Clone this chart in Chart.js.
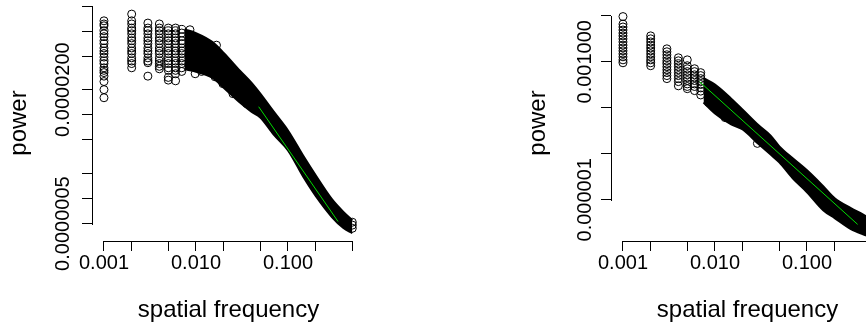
<!DOCTYPE html>
<html>
<head>
<meta charset="utf-8">
<script src="https://cdn.jsdelivr.net/npm/chart.js@4.4.0/dist/chart.umd.min.js"></script>
<style>
  html, body { margin: 0; padding: 0; background: #fff; overflow: hidden; }
  .panel { position: absolute; top: 0; width: 519px; height: 330px; }
</style>
</head>
<body>
<div class="panel" style="left:0"><canvas id="left" width="519" height="330"></canvas></div>
<div class="panel" style="left:519px"><canvas id="right" width="519" height="330"></canvas></div>
<script>
// shared x axis
const xTicks = [0.001, 0.002, 0.005, 0.01, 0.02, 0.05, 0.1, 0.2, 0.5];
const xTickLabels = ["0.001", "", "", "0.010", "", "", "0.100", "", ""];

// left panel
const leftYTicks = [5e-7, 1e-6, 2e-6, 5e-6, 1e-5, 2e-5, 5e-5, 1e-4, 2e-4];
const leftYTickLabels = ["0.0000005", "", "", "", "", "0.0000200", "", "", ""];
const leftColFreq = [0.001, 0.002, 0.003, 0.004, 0.005, 0.006, 0.007];
const leftColPower = [
  [1.33e-4, 1.22e-4, 1.16e-4, 1.01e-4, 9.3e-5, 8.6e-5, 7.7e-5, 7.1e-5, 6.3e-5, 5.8e-5, 5.4e-5, 4.9e-5, 4.4e-5, 4.1e-5, 3.65e-5, 3.4e-5, 3.2e-5, 2.9e-5, 2.5e-5, 2.0e-5, 1.6e-5],
  [1.6e-4, 1.33e-4, 1.22e-4, 1.09e-4, 1.01e-4, 9.3e-5, 8.3e-5, 7.7e-5, 7.1e-5, 6.3e-5, 5.8e-5, 5.4e-5, 4.8e-5, 4.4e-5, 4.1e-5, 3.65e-5],
  [1.25e-4, 1.09e-4, 1.01e-4, 9.3e-5, 8.3e-5, 7.7e-5, 7.1e-5, 6.3e-5, 5.8e-5, 5.4e-5, 4.8e-5, 4.4e-5, 4.2e-5, 2.9e-5],
  [1.22e-4, 1.09e-4, 1.01e-4, 9.3e-5, 8.3e-5, 7.7e-5, 7.1e-5, 6.3e-5, 5.8e-5, 5.4e-5, 4.8e-5, 4.4e-5, 4.1e-5, 3.8e-5, 3.55e-5],
  [1.09e-4, 1.01e-4, 9.3e-5, 8.3e-5, 7.7e-5, 7.1e-5, 6.3e-5, 5.8e-5, 5.4e-5, 4.8e-5, 4.4e-5, 4.1e-5, 3.65e-5, 3.4e-5, 2.8e-5, 2.6e-5],
  [1.09e-4, 1.01e-4, 9.3e-5, 8.3e-5, 7.7e-5, 7.1e-5, 6.3e-5, 5.8e-5, 5.4e-5, 4.8e-5, 4.4e-5, 4.1e-5, 3.65e-5, 3.4e-5, 3.1e-5, 2.55e-5],
  [1.05e-4, 9.5e-5, 8.6e-5, 7.7e-5, 7.1e-5, 6.3e-5, 5.8e-5, 5.4e-5, 4.8e-5, 4.4e-5, 4.1e-5, 3.65e-5, 3.3e-5]
];
const leftBandFreq = [0.0075, 0.01, 0.015, 0.02, 0.03, 0.04, 0.05, 0.07, 0.1, 0.15, 0.2, 0.3, 0.4, 0.5];
const leftBandUpper = [1.05e-4, 9.5e-5, 7.45e-5, 5.5e-5, 3.37e-5, 2.42e-5, 1.79e-5, 1.09e-5, 6.5e-6, 3.1e-6, 1.89e-6, 9.8e-7, 6.9e-7, 5.5e-7];
const leftBandLower = [3.5e-5, 3.28e-5, 2.78e-5, 2.11e-5, 1.4e-5, 1.09e-5, 9.3e-6, 5.8e-6, 3.76e-6, 1.74e-6, 1.07e-6, 6.0e-7, 4.43e-7, 3.86e-7];
const leftExtraFreq = [0.0086, 0.0098, 0.0115, 0.0161, 0.0167, 0.0196, 0.0252, 0.0356, 0.5, 0.5, 0.5];
const leftExtraPower = [1.04e-4, 3.1e-5, 3.3e-5, 2.85e-5, 6.8e-5, 2.36e-5, 1.79e-5, 1.36e-5, 5.2e-7, 4.8e-7, 4.4e-7];
const leftFitFreq = [0.048, 0.35];
const leftFitPower = [1.25e-5, 5.3e-7];

// right panel
const rightYTicks = [1e-6, 1e-5, 1e-4, 1e-3, 1e-2];
const rightYTickLabels = ["0.000001", "", "", "0.001000", ""];
const rightColFreq = [0.001, 0.002, 0.003, 0.004, 0.005, 0.006, 0.007];
const rightColPower = [
  [9.6e-3, 6.6e-3, 5.7e-3, 4.9e-3, 4.2e-3, 3.65e-3, 3.15e-3, 2.7e-3, 2.3e-3, 2.0e-3, 1.73e-3, 1.49e-3, 1.28e-3, 1.1e-3, 9.5e-4],
  [3.65e-3, 3.15e-3, 2.7e-3, 2.3e-3, 2.0e-3, 1.73e-3, 1.49e-3, 1.28e-3, 1.1e-3, 9.5e-4, 8.2e-4],
  [1.91e-3, 1.65e-3, 1.42e-3, 1.22e-3, 1.05e-3, 9.05e-4, 7.8e-4, 6.7e-4, 5.8e-4, 5.0e-4, 4.3e-4],
  [1.22e-3, 1.05e-3, 9.05e-4, 7.8e-4, 6.7e-4, 5.8e-4, 5.0e-4, 4.3e-4, 3.7e-4, 3.0e-4],
  [1.1e-3, 8.2e-4, 7.05e-4, 6.1e-4, 5.2e-4, 4.5e-4, 3.9e-4, 3.3e-4, 2.9e-4, 2.6e-4],
  [7.05e-4, 6.1e-4, 5.2e-4, 4.5e-4, 3.9e-4, 3.3e-4, 2.9e-4, 2.36e-4],
  [5.8e-4, 5.0e-4, 4.3e-4, 3.7e-4, 3.2e-4, 2.7e-4, 2.3e-4, 1.9e-4]
];
const rightBandFreq = [0.0075, 0.01, 0.015, 0.02, 0.03, 0.04, 0.05, 0.07, 0.1, 0.15, 0.2, 0.3, 0.4, 0.5];
const rightBandUpper = [4.4e-4, 3.18e-4, 1.58e-4, 9.1e-5, 4.1e-5, 2.5e-5, 1.45e-5, 7.95e-6, 4.37e-6, 1.97e-6, 1.08e-6, 6.6e-7, 4.9e-7, 3.8e-7];
const rightBandLower = [1.3e-4, 7.5e-5, 4.33e-5, 3.37e-5, 1.6e-5, 9.7e-6, 6.5e-6, 2.93e-6, 1.46e-6, 5.95e-7, 4.0e-7, 2.31e-7, 1.8e-7, 1.55e-7];
const rightExtraFreq = [0.0085, 0.0129, 0.0289];
const rightExtraPower = [1.3e-4, 6.1e-5, 1.68e-5];
const rightFitFreq = [0.0068, 0.355];
const rightFitPower = [3.69e-4, 2.92e-7];

Chart.defaults.font.family = '"Liberation Sans", Arial, sans-serif';
Chart.defaults.color = "#000";

// R style axis line: only from first to last tick
const axisLines = {
  id: "axisLines",
  afterDraw(chart) {
    const { ctx, chartArea } = chart;
    const x = chart.scales.x;
    const y = chart.scales.y;
    const bx = Math.round(chartArea.left) + 0.5;
    const by = Math.round(chartArea.bottom) + 0.5;
    ctx.save();
    ctx.strokeStyle = "#000";
    ctx.lineWidth = 1;
    ctx.beginPath();
    ctx.moveTo(Math.round(x.getPixelForValue(x.ticks[0].value)), by);
    ctx.lineTo(Math.round(x.getPixelForValue(x.ticks[x.ticks.length - 1].value)) + 1, by);
    ctx.moveTo(bx, Math.round(y.getPixelForValue(y.ticks[0].value)) + 1);
    ctx.lineTo(bx, Math.round(y.getPixelForValue(y.ticks[y.ticks.length - 1].value)));
    ctx.stroke();
    ctx.restore();
  }
};

function pairs(fs, ps) {
  return fs.map((f, i) => ({ x: f, y: ps[i] }));
}

function makeChart(id, d) {
  const points = [];
  d.colFreq.forEach((f, i) => d.colPower[i].forEach(p => points.push({ x: f, y: p })));
  d.extraFreq.forEach((f, i) => points.push({ x: f, y: d.extraPower[i] }));

  const band = { showLine: true, borderColor: "#000", borderWidth: 2, pointRadius: 0, cubicInterpolationMode: "monotone" };

  new Chart(document.getElementById(id), {
    type: "scatter",
    data: {
      datasets: [
        { data: pairs(d.fitFreq, d.fitPower), showLine: true, borderColor: "#00dd00", borderWidth: 1, pointRadius: 0 },
        Object.assign({ data: pairs(d.bandFreq, d.bandUpper), fill: "+1", backgroundColor: "#000" }, band),
        Object.assign({ data: pairs(d.bandFreq, d.bandLower) }, band),
        { data: points, pointRadius: 4, borderColor: "#000", borderWidth: 1, backgroundColor: "rgba(0,0,0,0)" }
      ]
    },
    options: {
      responsive: false,
      animation: false,
      devicePixelRatio: 1,
      layout: { padding: { top: 4, right: 154, left: 0, bottom: 0 } },
      plugins: { legend: { display: false }, tooltip: { enabled: false } },
      scales: {
        x: {
          type: "logarithmic",
          min: 7.41e-4,
          max: 0.687,
          afterBuildTicks: s => { s.ticks = xTicks.map(v => ({ value: v })); },
          afterFit: s => { s.height = 89; },
          grid: { drawOnChartArea: false, tickLength: 10, color: "#000" },
          border: { display: false },
          ticks: { autoSkip: false, maxRotation: 0, padding: 0, font: { size: 20 }, callback: (v, i) => xTickLabels[i] },
          title: { display: true, text: "spatial frequency", font: { size: 24 }, padding: { top: 0, bottom: 5 } }
        },
        y: {
          type: "logarithmic",
          min: d.yMin,
          max: d.yMax,
          afterBuildTicks: s => { s.ticks = d.yTicks.map(v => ({ value: v })); },
          afterFit: s => { s.width = 92; },
          grid: { drawOnChartArea: false, tickLength: 10, color: "#000" },
          border: { display: false },
          ticks: { autoSkip: false, minRotation: 90, maxRotation: 90, crossAlign: "center", padding: d.yLabelPad, font: { size: 20 }, callback: (v, i) => d.yTickLabels[i] },
          title: { display: true, text: "power", font: { size: 24 }, padding: { top: 5, bottom: 0 } }
        }
      }
    },
    plugins: [axisLines]
  });
}

makeChart("left", {
  colFreq: leftColFreq, colPower: leftColPower,
  bandFreq: leftBandFreq, bandUpper: leftBandUpper, bandLower: leftBandLower,
  extraFreq: leftExtraFreq, extraPower: leftExtraPower,
  fitFreq: leftFitFreq, fitPower: leftFitPower,
  yTicks: leftYTicks, yTickLabels: leftYTickLabels,
  yMin: 3.10e-7, yMax: 2.056e-4, yLabelPad: -28.6
});

makeChart("right", {
  colFreq: rightColFreq, colPower: rightColPower,
  bandFreq: rightBandFreq, bandUpper: rightBandUpper, bandLower: rightBandLower,
  extraFreq: rightExtraFreq, extraPower: rightExtraPower,
  fitFreq: rightFitFreq, fitPower: rightFitPower,
  yTicks: rightYTicks, yTickLabels: rightYTickLabels,
  yMin: 1.27e-7, yMax: 1.713e-2, yLabelPad: -25.7
});
</script>
</body>
</html>
